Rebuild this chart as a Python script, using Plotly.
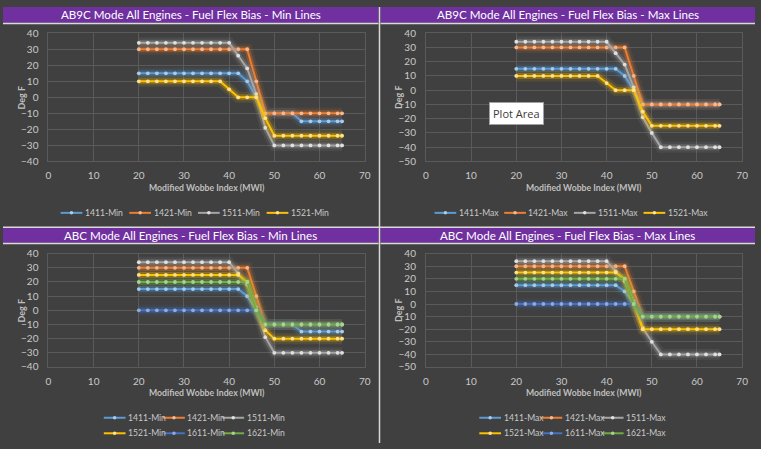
"""Fuel Flex Bias dashboard: AB9C / ABC mode, Min / Max lines, four panels."""
import plotly.graph_objects as go

# ---------------------------------------------------------------------------
# data
# ---------------------------------------------------------------------------

MWI = [20, 22, 24, 26, 28, 30, 32, 34, 36, 38, 40, 42, 44, 46, 48, 50, 52, 54, 56, 58, 60, 62, 64, 65]

AB9C_MIN_1411 = [15, 15, 15, 15, 15, 15, 15, 15, 15, 15, 15, 15, 10, 0, -10, -10, -10, -10, -15, -15, -15, -15, -15, -15]
AB9C_MIN_1421 = [30, 30, 30, 30, 30, 30, 30, 30, 30, 30, 30, 30, 30, 10, -10, -10, -10, -10, -10, -10, -10, -10, -10, -10]
AB9C_MIN_1511 = [34, 34, 34, 34, 34, 34, 34, 34, 34, 34, 34, 26, 18, 2, -19, -30, -30, -30, -30, -30, -30, -30, -30, -30]
AB9C_MIN_1521 = [10, 10, 10, 10, 10, 10, 10, 10, 10, 10, 5, 0, 0, 0, -13, -24, -24, -24, -24, -24, -24, -24, -24, -24]

AB9C_MAX_1411 = [15, 15, 15, 15, 15, 15, 15, 15, 15, 15, 15, 15, 10, 0, -10, -10, -10, -10, -10, -10, -10, -10, -10, -10]
AB9C_MAX_1421 = [30, 30, 30, 30, 30, 30, 30, 30, 30, 30, 30, 30, 30, 10, -10, -10, -10, -10, -10, -10, -10, -10, -10, -10]
AB9C_MAX_1511 = [34, 34, 34, 34, 34, 34, 34, 34, 34, 34, 34, 26, 18, 2, -19, -30, -40, -40, -40, -40, -40, -40, -40, -40]
AB9C_MAX_1521 = [10, 10, 10, 10, 10, 10, 10, 10, 10, 10, 5, 0, 0, 0, -15, -25, -25, -25, -25, -25, -25, -25, -25, -25]

ABC_MIN_1411 = [15, 15, 15, 15, 15, 15, 15, 15, 15, 15, 15, 15, 10, 0, -10, -10, -10, -10, -15, -15, -15, -15, -15, -15]
ABC_MIN_1421 = [30, 30, 30, 30, 30, 30, 30, 30, 30, 30, 30, 30, 30, 10, -10, -10, -10, -10, -10, -10, -10, -10, -10, -10]
ABC_MIN_1511 = [34, 34, 34, 34, 34, 34, 34, 34, 34, 34, 34, 26, 18, 2, -19, -30, -30, -30, -30, -30, -30, -30, -30, -30]
ABC_MIN_1521 = [25, 25, 25, 25, 25, 25, 25, 25, 25, 25, 25, 25, 20, 0, -14, -20, -20, -20, -20, -20, -20, -20, -20, -20]
ABC_MIN_1611 = [0, 0, 0, 0, 0, 0, 0, 0, 0, 0, 0, 0, 0, 0, -10, -10, -10, -10, -10, -10, -10, -10, -10, -10]
ABC_MIN_1621 = [20, 20, 20, 20, 20, 20, 20, 20, 20, 20, 20, 20, 20, 0, -10, -10, -10, -10, -10, -10, -10, -10, -10, -10]

ABC_MAX_1411 = [15, 15, 15, 15, 15, 15, 15, 15, 15, 15, 15, 15, 10, 0, -10, -10, -10, -10, -10, -10, -10, -10, -10, -10]
ABC_MAX_1421 = [30, 30, 30, 30, 30, 30, 30, 30, 30, 30, 30, 30, 30, 10, -10, -10, -10, -10, -10, -10, -10, -10, -10, -10]
ABC_MAX_1511 = [34, 34, 34, 34, 34, 34, 34, 34, 34, 34, 34, 26, 18, 2, -19, -30, -40, -40, -40, -40, -40, -40, -40, -40]
ABC_MAX_1521 = [25, 25, 25, 25, 25, 25, 25, 25, 25, 25, 25, 25, 20, 0, -20, -20, -20, -20, -20, -20, -20, -20, -20, -20]
ABC_MAX_1611 = [0, 0, 0, 0, 0, 0, 0, 0, 0, 0, 0, 0, 0, 0, -10, -10, -10, -10, -10, -10, -10, -10, -10, -10]
ABC_MAX_1621 = [20, 20, 20, 20, 20, 20, 20, 20, 20, 20, 20, 20, 20, 0, -10, -10, -10, -10, -10, -10, -10, -10, -10, -10]

X_TITLE = "Modified Wobbe Index (MWI)"
Y_TITLE = "Deg F"

# ---------------------------------------------------------------------------
# look
# ---------------------------------------------------------------------------

W, H = 761, 449
FONT = "Lato, 'Open Sans', sans-serif"
BG = "#404040"
GRID = "#5a5a5a"
PURPLE = "#7030A0"
RULE = "#d9d9d9"
TICK_C = "#c9c9c9"

# engine -> (line, marker tint)
COLORS = {
    "1411": ("#5B9BD5", "#a9cbec"),
    "1421": ("#ED7D31", "#f6b98f"),
    "1511": ("#A5A5A5", "#e0e0e0"),
    "1521": ("#FFC000", "#ffe28a"),
    "1611": ("#4472C4", "#8eaadf"),
    "1621": ("#70AD47", "#a9d38c"),
}


def px(x: float) -> float:
    return x / W


def py(y: float) -> float:
    return 1 - y / H


def rgba(hex_c: str, a: float) -> str:
    h = hex_c.lstrip("#")
    return f"rgba({int(h[0:2], 16)},{int(h[2:4], 16)},{int(h[4:6], 16)},{a})"


# tile = left/right edge of the panel, bar = title bar y-span,
# box = plot area (l, r, t, b) in px, legend rows = (y, x start, pitch, series)
PANELS = [
    dict(title="AB9C Mode All Engines - Fuel Flex Bias - Min Lines",
         tile=(0, 380), bar=(0, 16.3), box=(46, 366, 27, 159), yrange=[-40, 40], xt_y=186,
         legends=[(212, 58.3, 69.5, [("1411-Min", AB9C_MIN_1411), ("1421-Min", AB9C_MIN_1421),
                                     ("1511-Min", AB9C_MIN_1511), ("1521-Min", AB9C_MIN_1521)])]),
    dict(title="AB9C Mode All Engines - Fuel Flex Bias - Max Lines",
         tile=(382, 761), bar=(0, 16.3), box=(428, 748, 27, 159), yrange=[-50, 40], xt_y=186,
         legends=[(212, 436.7, 70.5, [("1411-Max", AB9C_MAX_1411), ("1421-Max", AB9C_MAX_1421),
                                      ("1511-Max", AB9C_MAX_1511), ("1521-Max", AB9C_MAX_1521)])]),
    dict(title="ABC Mode All Engines - Fuel Flex Bias - Min Lines",
         tile=(0, 380), bar=(227.5, 242.8), box=(46, 366, 254, 370.7), yrange=[-40, 40], xt_y=397,
         legends=[(423, 102, 60, [("1411-Min", ABC_MIN_1411), ("1421-Min", ABC_MIN_1421),
                                  ("1511-Min", ABC_MIN_1511)]),
                  (439, 102, 60, [("1521-Min", ABC_MIN_1521), ("1611-Min", ABC_MIN_1611),
                                  ("1621-Min", ABC_MIN_1621)])]),
    dict(title="ABC Mode All Engines - Fuel Flex Bias - Max Lines",
         tile=(382, 761), bar=(227.5, 242.8), box=(428, 748, 254, 370.7), yrange=[-50, 40], xt_y=397,
         legends=[(423, 482, 62, [("1411-Max", ABC_MAX_1411), ("1421-Max", ABC_MAX_1421),
                                  ("1511-Max", ABC_MAX_1511)]),
                  (439, 482, 62, [("1521-Max", ABC_MAX_1521), ("1611-Max", ABC_MAX_1611),
                                  ("1621-Max", ABC_MAX_1621)])]),
]

# ---------------------------------------------------------------------------
# build
# ---------------------------------------------------------------------------

fig = go.Figure()
layout = dict(
    width=W, height=H, margin=dict(l=0, r=0, t=0, b=0),
    paper_bgcolor=BG, plot_bgcolor=BG,
    font=dict(family=FONT, color=TICK_C, size=10),
    hovermode=False, showlegend=False,
)
shapes, annotations = [], []


def legend_key(x: float, y: float, name: str) -> None:
    """Excel-style key: short line with a dot, label right after it."""
    line_c, dot_c = COLORS[name[:4]]
    shapes.append(dict(type="line", xref="paper", yref="paper", x0=px(x), x1=px(x + 22),
                       y0=py(y), y1=py(y), line=dict(color=line_c, width=2)))
    shapes.append(dict(type="circle", xref="paper", yref="paper",
                       x0=px(x + 9.2), x1=px(x + 12.8), y0=py(y + 1.8), y1=py(y - 1.8),
                       fillcolor=dot_c, line=dict(width=0)))
    annotations.append(dict(text=name, xref="paper", yref="paper", x=px(x + 22.5), y=py(y),
                            xanchor="left", yanchor="middle", showarrow=False,
                            font=dict(family=FONT, size=8.6, color=TICK_C)))


for i, p in enumerate(PANELS, start=1):
    sfx = "" if i == 1 else str(i)
    xa, ya = f"x{sfx}", f"y{sfx}"
    l, r, t, b = p["box"]
    axis_common = dict(
        showgrid=True, gridcolor=GRID, gridwidth=1, zeroline=False,
        showline=True, mirror=True, linecolor=GRID, linewidth=1,
        ticks="", tickfont=dict(family=FONT, size=10, color=TICK_C),
        dtick=10, fixedrange=True,
    )
    layout[f"xaxis{sfx}"] = dict(axis_common, domain=[px(l), px(r)], range=[0, 70],
                                 anchor=ya, ticklabelstandoff=5)
    layout[f"yaxis{sfx}"] = dict(axis_common, domain=[py(b), py(t)], range=p["yrange"],
                                 anchor=xa, ticklabelstandoff=7)

    # series + keys
    for ly, lx, pitch, rows in p["legends"]:
        for k, (name, vals) in enumerate(rows):
            line_c, dot_c = COLORS[name[:4]]
            # soft glow, two passes
            for gw, ga in ((11, 0.10), (6, 0.28)):
                fig.add_trace(go.Scatter(
                    x=MWI, y=vals, mode="lines", xaxis=xa, yaxis=ya,
                    line=dict(color=rgba(line_c, ga), width=gw), hoverinfo="skip",
                ))
            fig.add_trace(go.Scatter(
                x=MWI, y=vals, mode="lines+markers", name=name, xaxis=xa, yaxis=ya,
                line=dict(color=line_c, width=2),
                marker=dict(color=dot_c, size=3.8, line=dict(width=0)),
            ))
            legend_key(lx + k * pitch, ly, name)

    # title bar
    x0, x1 = p["tile"]
    y0, y1 = p["bar"]
    shapes.append(dict(type="rect", xref="paper", yref="paper", x0=px(x0), x1=px(x1),
                       y0=py(y1), y1=py(y0), fillcolor=PURPLE, line=dict(width=0)))
    shapes.append(dict(type="line", xref="paper", yref="paper", x0=px(x0), x1=px(x1),
                       y0=py(y1 + 0.7), y1=py(y1 + 0.7), line=dict(color=RULE, width=1.5)))
    annotations.append(dict(text=p["title"], xref="paper", yref="paper",
                            x=px((x0 + x1) / 2), y=py((y0 + y1) / 2), showarrow=False,
                            xanchor="center", yanchor="middle",
                            font=dict(family=FONT, size=11.6, color="#ffffff")))

    # axis titles
    annotations.append(dict(text=f"<b>{X_TITLE}</b>", xref="paper", yref="paper",
                            x=px((l + r) / 2), y=py(p["xt_y"]), showarrow=False,
                            xanchor="center", yanchor="middle",
                            font=dict(family=FONT, size=8.7, color="#bfbfbf")))
    annotations.append(dict(text=f"<b>{Y_TITLE}</b>", xref="paper", yref="paper",
                            x=px(x0 + 18.5), y=py((t + b) / 2), showarrow=False,
                            textangle=-90, xanchor="center", yanchor="middle",
                            font=dict(family=FONT, size=9, color="#bfbfbf")))

# separators between tiles
shapes.append(dict(type="line", xref="paper", yref="paper", x0=0, x1=1,
                   y0=py(226.8), y1=py(226.8), line=dict(color=RULE, width=1.5)))
shapes.append(dict(type="line", xref="paper", yref="paper", x0=px(381), x1=px(381),
                   y0=0, y1=1, line=dict(color=RULE, width=1.5)))

# Excel hover tip left in the screenshot
annotations.append(dict(text="Plot Area", xref="paper", yref="paper",
                        x=px(519.5), y=py(110), showarrow=False,
                        xanchor="center", yanchor="middle",
                        bgcolor="#ffffff", bordercolor="#a0a0a0", borderwidth=1, borderpad=3,
                        font=dict(family="'Open Sans', sans-serif", size=11, color="#3b3b3b")))

layout["shapes"] = shapes
layout["annotations"] = annotations
fig.update_layout(**layout)

# drop the default page margin so the figure sits at (0, 0)
fig.write_html("out.html", config={"displayModeBar": False},
               post_script="document.body.style.margin='0';")
